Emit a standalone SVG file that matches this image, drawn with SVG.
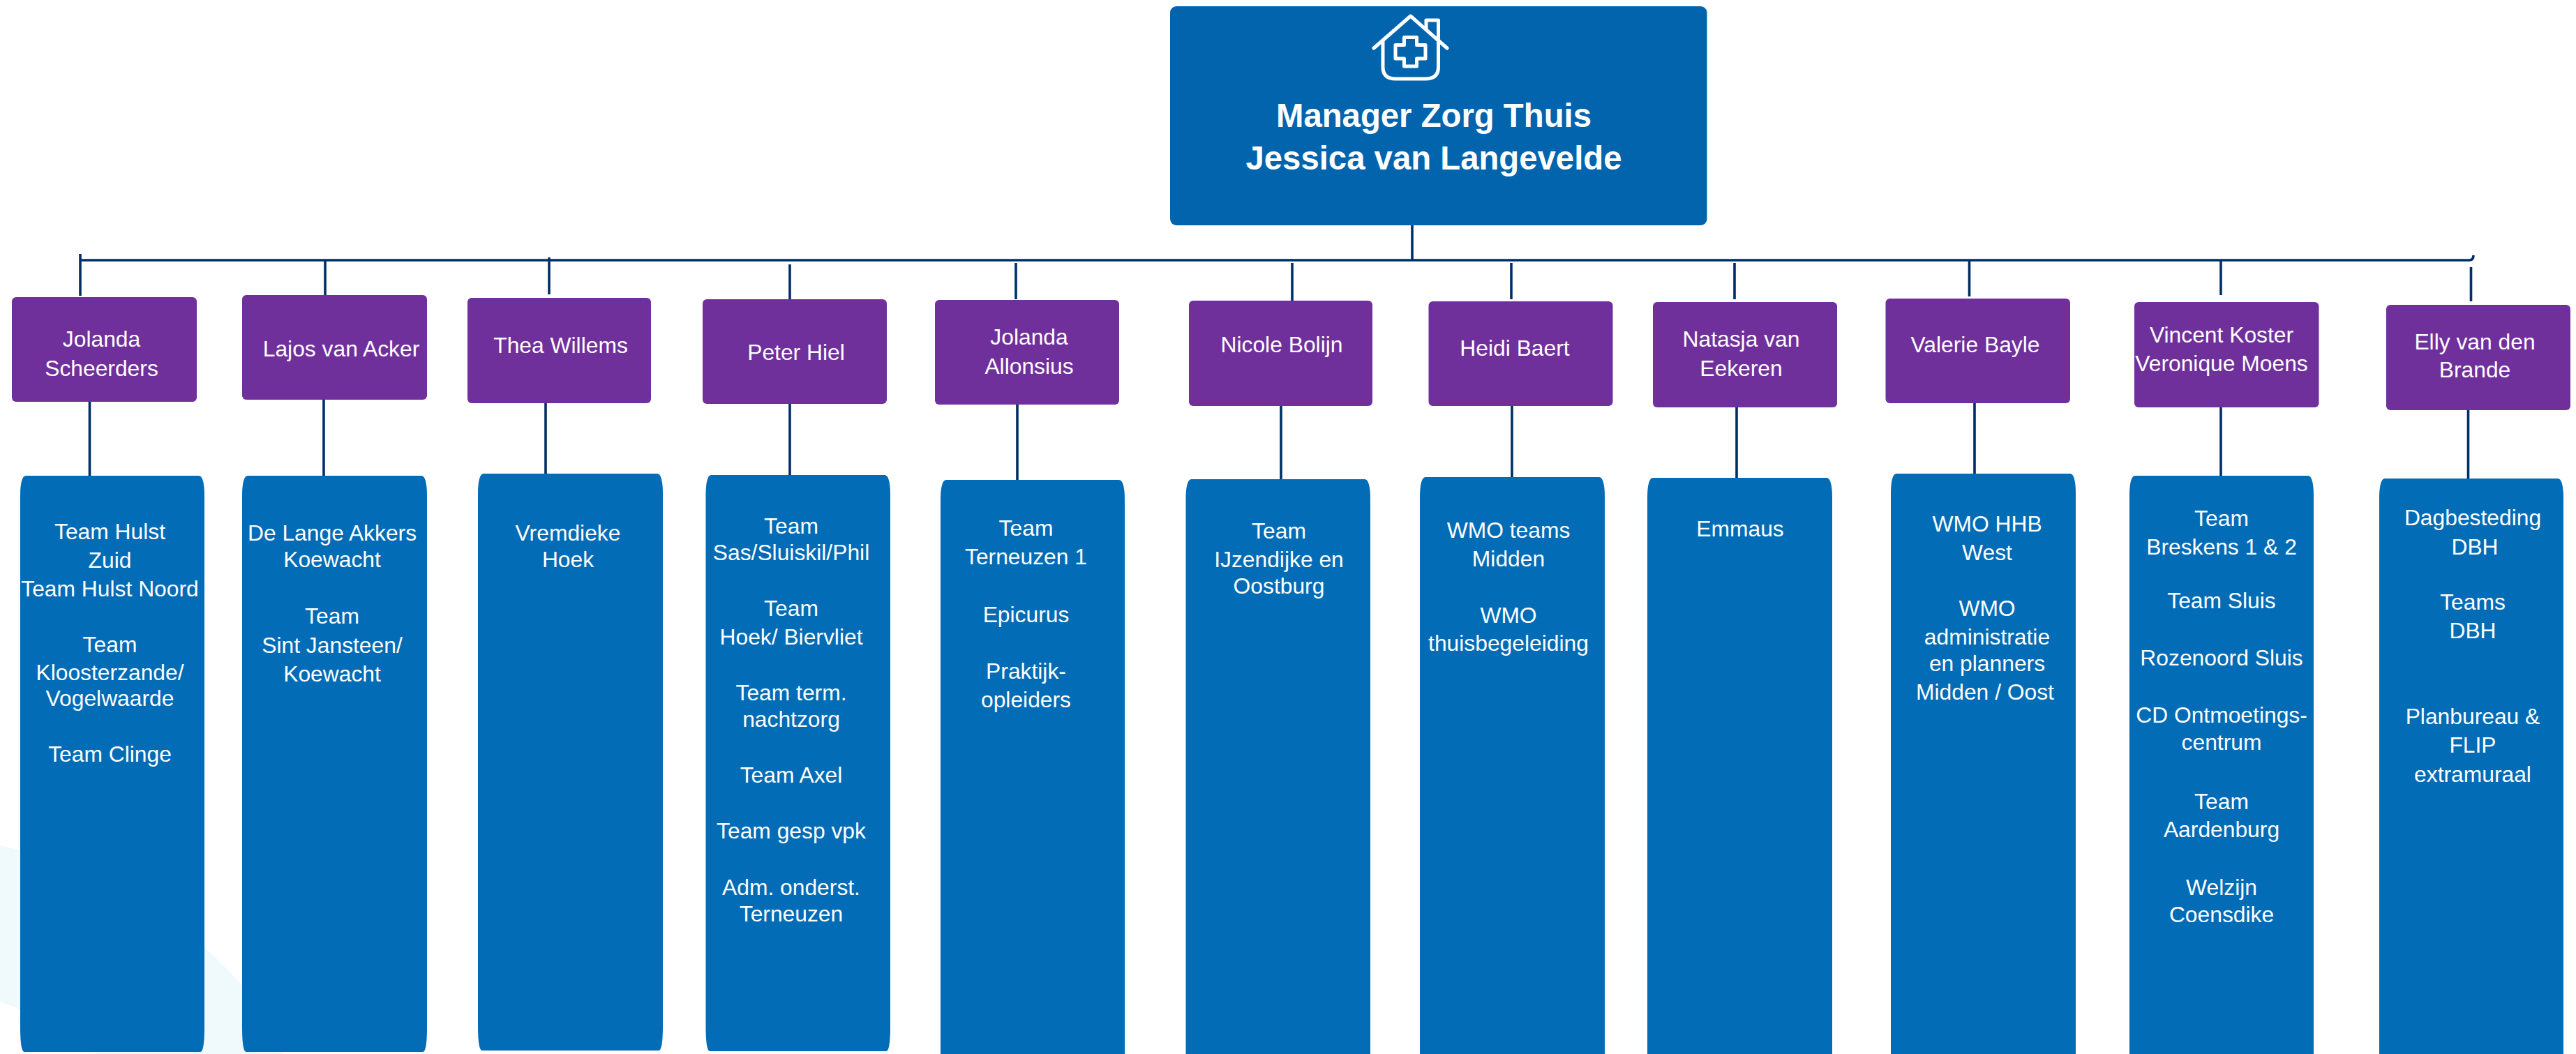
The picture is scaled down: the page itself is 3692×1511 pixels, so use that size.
<svg xmlns="http://www.w3.org/2000/svg" width="3692" height="1511" viewBox="0 0 3692 1511">
<style>
text{font-family:"Liberation Sans",Arial,sans-serif;fill:#fff;text-anchor:middle;font-size:31.8px}
.root{fill:#0364AE}
.mgr{fill:#70309C}
.team{fill:#026CB6}
.title{font-size:47.3px;font-weight:700}
#connectors path{fill:none;stroke:#002F67;stroke-width:3.6}
#icon *{fill:none;stroke:#fff;stroke-width:5;stroke-linecap:round;stroke-linejoin:round}
</style>
<rect width="3692" height="1511" fill="#fff"/>
<path id="backdrop" fill="#F0F9FB" d="M0 1212C120 1238 250 1300 347 1413Q385 1470 406 1511L138 1511Q70 1460 0 1436Z"/>
<g id="connectors">
<path d="M2024 323V373"/>
<path d="M115 373H3539Q3545 373 3545 366"/>
<path d="M115 364V424M128.500 576V682"/>
<path d="M466 373V423M464 573V682"/>
<path d="M787 369V422M782 578V679"/>
<path d="M1132 379V429M1132 579V681"/>
<path d="M1456 377V429M1458 580V688"/>
<path d="M1852 377V431M1836 582V687"/>
<path d="M2166 377V429M2167 582V684"/>
<path d="M2486 377V429M2489 584V685"/>
<path d="M2822.500 373V425M2830 578V679"/>
<path d="M3183 373V423M3183 584V682"/>
<path d="M3541.500 383V432M3537.500 588V686"/>
</g>
<g id="root">
<rect class="root" x="1677" y="9" width="769.500" height="314" rx="9"/>
<g id="icon">
<path d="M1969 69L2021.700 23L2074 69"/>
<path d="M1982 58V96Q1982 113 2000 113H2043Q2061.500 113 2061.500 96V29H2044V42"/>
<path d="M2012.500 53.500H2030.500V64.500H2043V84H2030.500V95H2012.500V84H2000V64.500H2012.500Z"/>
</g>
<text class="title" x="2055" y="182">Manager Zorg Thuis</text>
<text class="title" x="2055" y="243">Jessica van Langevelde</text>
</g>
<g id="mgr1"><rect class="mgr" x="17" y="426" width="265" height="150" rx="6"/><text x="145.500" y="497">Jolanda</text><text x="145.500" y="539">Scheerders</text></g>
<g id="mgr2"><rect class="mgr" x="347" y="423" width="265" height="150" rx="6"/><text x="489" y="511">Lajos van Acker</text></g>
<g id="mgr3"><rect class="mgr" x="670" y="427" width="263" height="151" rx="6"/><text x="803.500" y="506">Thea Willems</text></g>
<g id="mgr4"><rect class="mgr" x="1007" y="429" width="264" height="150" rx="6"/><text x="1141" y="516">Peter Hiel</text></g>
<g id="mgr5"><rect class="mgr" x="1340" y="430" width="264" height="150" rx="6"/><text x="1475" y="494">Jolanda</text><text x="1475" y="536">Allonsius</text></g>
<g id="mgr6"><rect class="mgr" x="1704" y="431" width="263" height="151" rx="6"/><text x="1837" y="505">Nicole Bolijn</text></g>
<g id="mgr7"><rect class="mgr" x="2047.500" y="432" width="264" height="150" rx="6"/><text x="2171" y="510">Heidi Baert</text></g>
<g id="mgr8"><rect class="mgr" x="2369" y="433" width="264" height="151" rx="6"/><text x="2495.500" y="497">Natasja van</text><text x="2495.500" y="539">Eekeren</text></g>
<g id="mgr9"><rect class="mgr" x="2702.500" y="428" width="264.500" height="150" rx="6"/><text x="2831" y="505">Valerie Bayle</text></g>
<g id="mgr10"><rect class="mgr" x="3059" y="433" width="264.500" height="151" rx="6"/><text x="3184" y="491">Vincent Koster</text><text x="3184" y="532">Veronique Moens</text></g>
<g id="mgr11"><rect class="mgr" x="3420" y="437" width="264" height="151" rx="6"/><text x="3547" y="501">Elly van den</text><text x="3547" y="541">Brande</text></g>
<g id="team1"><path class="team" d="M29 1472V710C29 692 32 682 37 682H285C290 682 293 692 293 710V1472C293 1496 291 1508 287 1508H35C31 1508 29 1496 29 1472Z"/>
<text x="157.500" y="773">Team Hulst</text><text x="157.500" y="814">Zuid</text><text x="157.500" y="855">Team Hulst Noord</text><text x="157.500" y="935">Team</text><text x="157.500" y="975">Kloosterzande/</text><text x="157.500" y="1012">Vogelwaarde</text><text x="157.500" y="1092">Team Clinge</text></g>
<g id="team2"><path class="team" d="M347 1472V710C347 692 350 682 355 682H604C609 682 612 692 612 710V1472C612 1496 610 1508 606 1508H353C349 1508 347 1496 347 1472Z"/>
<text x="476" y="775">De Lange Akkers</text><text x="476" y="813">Koewacht</text><text x="476" y="894">Team</text><text x="476" y="936">Sint Jansteen/</text><text x="476" y="977">Koewacht</text></g>
<g id="team3"><path class="team" d="M685 1470V707C685 689 688 679 693 679H942C947 679 950 689 950 707V1470C950 1494 948 1506 944 1506H691C687 1506 685 1494 685 1470Z"/>
<text x="814" y="775">Vremdieke</text><text x="814" y="813">Hoek</text></g>
<g id="team4"><path class="team" d="M1011.500 1471V709C1011.500 691 1014.500 681 1019.500 681H1268C1273 681 1276 691 1276 709V1471C1276 1495 1274 1507 1270 1507H1017.500C1013.500 1507 1011.500 1495 1011.500 1471Z"/>
<text x="1134" y="765">Team</text><text x="1134" y="803">Sas/Sluiskil/Phil</text><text x="1134" y="883">Team</text><text x="1134" y="924">Hoek/ Biervliet</text><text x="1134" y="1004">Team term.</text><text x="1134" y="1042">nachtzorg</text><text x="1134" y="1122">Team Axel</text><text x="1134" y="1202">Team gesp vpk</text><text x="1134" y="1283">Adm. onderst.</text><text x="1134" y="1321">Terneuzen</text></g>
<g id="team5"><path class="team" d="M1348 1530V716C1348 698 1351 688 1356 688H1604C1609 688 1612 698 1612 716V1530H1348Z"/>
<text x="1470.500" y="768">Team</text><text x="1470.500" y="809">Terneuzen 1</text><text x="1470.500" y="892">Epicurus</text><text x="1470.500" y="973">Praktijk-</text><text x="1470.500" y="1014">opleiders</text></g>
<g id="team6"><path class="team" d="M1699.500 1530V715C1699.500 697 1702.500 687 1707.500 687H1956C1961 687 1964 697 1964 715V1530H1699.500Z"/>
<text x="1833" y="772">Team</text><text x="1833" y="813">IJzendijke en</text><text x="1833" y="851">Oostburg</text></g>
<g id="team7"><path class="team" d="M2035 1530V712C2035 694 2038 684 2043 684H2292C2297 684 2300 694 2300 712V1530H2035Z"/>
<text x="2162" y="771">WMO teams</text><text x="2162" y="812">Midden</text><text x="2162" y="893">WMO</text><text x="2162" y="933">thuisbegeleiding</text></g>
<g id="team8"><path class="team" d="M2361 1530V713C2361 695 2364 685 2369 685H2618C2623 685 2626 695 2626 713V1530H2361Z"/>
<text x="2494" y="769">Emmaus</text></g>
<g id="team9"><path class="team" d="M2710 1530V707C2710 689 2713 679 2718 679H2967C2972 679 2975 689 2975 707V1530H2710Z"/>
<text x="2848" y="762">WMO HHB</text><text x="2848" y="803">West</text><text x="2848" y="883">WMO</text><text x="2848" y="924">administratie</text><text x="2848" y="962">en planners</text><text x="2845" y="1003">Midden / Oost</text></g>
<g id="team10"><path class="team" d="M3052 1530V710C3052 692 3055 682 3060 682H3308C3313 682 3316 692 3316 710V1530H3052Z"/>
<text x="3184" y="754">Team</text><text x="3184" y="795">Breskens 1 &amp; 2</text><text x="3184" y="872">Team Sluis</text><text x="3184" y="954">Rozenoord Sluis</text><text x="3184" y="1036">CD Ontmoetings-</text><text x="3184" y="1075">centrum</text><text x="3184" y="1160">Team</text><text x="3184" y="1200">Aardenburg</text><text x="3184" y="1283">Welzijn</text><text x="3184" y="1322">Coensdike</text></g>
<g id="team11"><path class="team" d="M3410 1530V714C3410 696 3413 686 3418 686H3666C3671 686 3674 696 3674 714V1530H3410Z"/>
<text x="3544" y="753">Dagbesteding</text><text x="3547" y="795">DBH</text><text x="3544" y="874">Teams</text><text x="3544" y="915">DBH</text><text x="3544" y="1038">Planbureau &amp;</text><text x="3544" y="1079">FLIP</text><text x="3544" y="1121">extramuraal</text></g>
</svg>
